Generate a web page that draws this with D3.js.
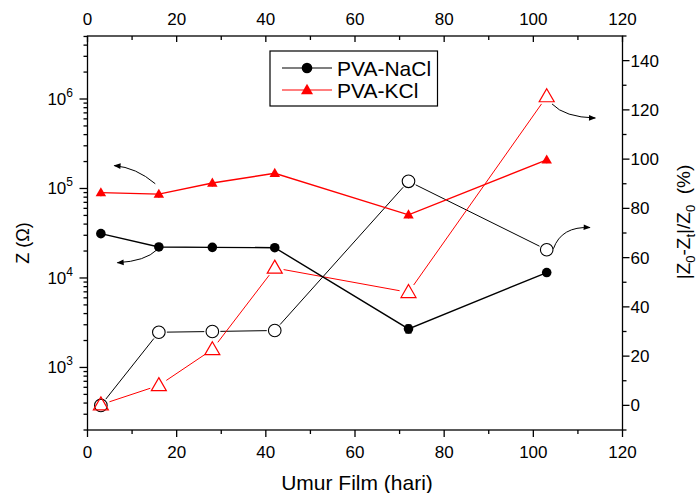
<!DOCTYPE html>
<html><head><meta charset="utf-8">
<script src="https://cdn.jsdelivr.net/npm/d3@7"></script>
<style>body{margin:0;background:#fff}svg{display:block}text{font-family:"Liberation Sans",Arial,sans-serif}</style>
</head><body>
<script>
const days = [3, 16, 28, 42, 72, 103];
const zNaCl = [31300, 22200, 22000, 21800, 2700, 11500];
const zNaClErr = [0, 0, 0, 0, 280, 0];
const zKCl = [90000, 86500, 115000, 148000, 50800, 209000];
const zKClErr = [8000, 7500, 10000, 13000, 4500, 18000];
const pNaCl = [0, 29.7, 30, 30.4, 91, 63.2];
const pKCl = [0.3, 8.1, 22.7, 55.8, 45.9, 125.4];
const xTicks = [0, 20, 40, 60, 80, 100, 120];
const rTicks = [0, 20, 40, 60, 80, 100, 120, 140];
const logMajor = [3, 4, 5, 6];
const legendNames = ["PVA-NaCl", "PVA-KCl"];

const W = 697, H = 493;
const svg = d3.select("body").append("svg").attr("width", W).attr("height", H);
const L = 87.5, R = 622.5, T = 36, B = 430;
const x = d3.scaleLinear([0, 120], [L, R]);
const yL = d3.scaleLog([200, 5.06e6], [B, T]);
const yR = d3.scaleLinear([-10, 150], [B, T]);

const ax = svg.append("g").attr("stroke", "#000").attr("stroke-width", 1.3).attr("fill", "none");
ax.append("rect").attr("x", L).attr("y", T).attr("width", R - L).attr("height", B - T);

// bottom & top ticks
const xMinor = d3.range(10, 120, 20);
xTicks.forEach(v => {
  ax.append("line").attr("x1", x(v)).attr("x2", x(v)).attr("y1", B).attr("y2", B + 7);
  ax.append("line").attr("x1", x(v)).attr("x2", x(v)).attr("y1", T).attr("y2", T + 6);
});
xMinor.forEach(v => {
  ax.append("line").attr("x1", x(v)).attr("x2", x(v)).attr("y1", B).attr("y2", B + 4);
  ax.append("line").attr("x1", x(v)).attr("x2", x(v)).attr("y1", T).attr("y2", T + 4);
});
const tg = svg.append("g").attr("font-size", 17).attr("fill", "#000").attr("text-anchor", "middle");
xTicks.forEach(v => {
  tg.append("text").attr("x", x(v)).attr("y", B + 28).text(v);
  tg.append("text").attr("x", x(v)).attr("y", T - 11).text(v);
});

// left log ticks
const [lo, hi] = yL.domain();
for (let e = 2; e <= 6; e++) {
  for (let k = 1; k <= 9; k++) {
    const v = k * Math.pow(10, e);
    if (v < lo || v > hi) continue;
    const len = k === 1 ? 8 : 4;
    ax.append("line").attr("x1", L).attr("x2", L - len).attr("y1", yL(v)).attr("y2", yL(v));
  }
}
logMajor.forEach(e => {
  const t = svg.append("text").attr("font-size", 17).attr("text-anchor", "end")
    .attr("x", 73).attr("y", yL(Math.pow(10, e)) + 6);
  t.append("tspan").text("10");
  t.append("tspan").attr("font-size", 12).attr("dy", -8).text(e);
});

// right ticks
d3.range(-10, 151, 10).forEach(v => {
  const major = v % 20 === 0;
  ax.append("line").attr("x1", R).attr("x2", R + (major ? 7 : 4)).attr("y1", yR(v)).attr("y2", yR(v));
});
rTicks.forEach(v => {
  svg.append("text").attr("font-size", 17).attr("x", R + 8).attr("y", yR(v) + 6).text(v);
});

// axis titles
svg.append("text").attr("font-size", 21).attr("text-anchor", "middle")
  .attr("x", 357).attr("y", 490).text("Umur Film (hari)");
svg.append("text").attr("font-size", 18).attr("text-anchor", "middle")
  .attr("transform", "translate(29,243) rotate(-90)").text("Z (Ω)");
const rt = svg.append("text").attr("font-size", 19).attr("text-anchor", "middle")
  .attr("transform", "translate(690,222) rotate(-90)");
rt.append("tspan").text("|Z");
rt.append("tspan").attr("font-size", 13).attr("dy", 5).text("0");
rt.append("tspan").attr("dy", -5).text("-Z");
rt.append("tspan").attr("font-size", 13).attr("dy", 5).text("t");
rt.append("tspan").attr("dy", -5).text("|/Z");
rt.append("tspan").attr("font-size", 13).attr("dy", 5).text("0");
rt.append("tspan").attr("dy", -5).text("\u00a0\u00a0(%)");

// helpers
function trimmedSegments(g, pts, gap, color, w) {
  for (let i = 0; i < pts.length - 1; i++) {
    const [x1, y1] = pts[i], [x2, y2] = pts[i + 1];
    const dx = x2 - x1, dy = y2 - y1, d = Math.hypot(dx, dy);
    const ux = dx / d, uy = dy / d;
    g.append("line").attr("x1", x1 + ux * gap).attr("y1", y1 + uy * gap)
      .attr("x2", x2 - ux * gap).attr("y2", y2 - uy * gap)
      .attr("stroke", color).attr("stroke-width", w);
  }
}
function tri(cx, cy, s) {
  const h = s * 0.866;
  return `M${cx},${cy - h * 0.6}L${cx + s / 2},${cy + h * 0.4}L${cx - s / 2},${cy + h * 0.4}Z`;
}

const plot = svg.append("g");
// open series (right axis)
const ptsNa = days.map((d, i) => [x(d), yR(pNaCl[i])]);
const ptsK = days.map((d, i) => [x(d), yR(pKCl[i])]);
trimmedSegments(plot, ptsNa, 8, "#000", 1);
trimmedSegments(plot, ptsK, 9, "#f00", 1);
ptsNa.forEach(p => plot.append("circle").attr("cx", p[0]).attr("cy", p[1]).attr("r", 6.3)
  .attr("fill", "none").attr("stroke", "#000").attr("stroke-width", 1.1));
ptsK.forEach(p => plot.append("path").attr("d", tri(p[0], p[1], 15))
  .attr("fill", "none").attr("stroke", "#f00").attr("stroke-width", 1.2));

// filled series (left axis)
const line = d3.line();
const fNa = days.map((d, i) => [x(d), yL(zNaCl[i])]);
const fK = days.map((d, i) => [x(d), yL(zKCl[i])]);
plot.append("path").attr("d", line(fNa)).attr("fill", "none").attr("stroke", "#000").attr("stroke-width", 1.4);
plot.append("path").attr("d", line(fK)).attr("fill", "none").attr("stroke", "#f00").attr("stroke-width", 1.4);
days.forEach((d, i) => {
  if (zNaClErr[i] > 0) {
    plot.append("line").attr("x1", x(d)).attr("x2", x(d))
      .attr("y1", yL(zNaCl[i] - zNaClErr[i])).attr("y2", yL(zNaCl[i] + zNaClErr[i])).attr("stroke", "#000").attr("stroke-width", 1.2);
    [-1, 1].forEach(s => plot.append("line").attr("x1", x(d) - 3).attr("x2", x(d) + 3)
      .attr("y1", yL(zNaCl[i] + s * zNaClErr[i])).attr("y2", yL(zNaCl[i] + s * zNaClErr[i])).attr("stroke", "#000"));
  }
  plot.append("line").attr("x1", x(d)).attr("x2", x(d))
    .attr("y1", yL(zKCl[i] - zKClErr[i])).attr("y2", yL(zKCl[i] + zKClErr[i])).attr("stroke", "#f00").attr("stroke-width", 1.2);
});
fNa.forEach(p => plot.append("circle").attr("cx", p[0]).attr("cy", p[1]).attr("r", 4.8).attr("fill", "#000"));
fK.forEach(p => plot.append("path").attr("d", tri(p[0], p[1], 10.5)).attr("fill", "#f00"));

// curved arrows (annotation, in data coordinates)
const defs = svg.append("defs");
defs.append("marker").attr("id", "ah").attr("viewBox", "0 0 10 10").attr("refX", 9).attr("refY", 5)
  .attr("markerWidth", 8).attr("markerHeight", 7).attr("markerUnits", "userSpaceOnUse").attr("orient", "auto")
  .append("path").attr("d", "M0,1L10,5L0,9Z").attr("fill", "#000");
const arrowsL = [
  [[15.2, 1.13e5], [10.9, 1.72e5], [6.0, 1.8e5]],
  [[15.6, 2.07e4], [13.0, 1.54e4], [6.7, 1.48e4]]
];
const arrowsR = [
  [[104.2, 122.4], [107.0, 117.0], [113.9, 116.7]],
  [[104.5, 63.6], [106.3, 72.8], [112.7, 72.2]]
];
arrowsL.forEach(a => {
  const p = a.map(q => [x(q[0]), yL(q[1])]);
  svg.append("path").attr("d", `M${p[0]}Q${p[1]} ${p[2]}`).attr("fill", "none")
    .attr("stroke", "#000").attr("stroke-width", 1).attr("marker-end", "url(#ah)");
});
arrowsR.forEach(a => {
  const p = a.map(q => [x(q[0]), yR(q[1])]);
  svg.append("path").attr("d", `M${p[0]}Q${p[1]} ${p[2]}`).attr("fill", "none")
    .attr("stroke", "#000").attr("stroke-width", 1).attr("marker-end", "url(#ah)");
});

// legend
const lg = svg.append("g");
lg.append("rect").attr("x", 270).attr("y", 51).attr("width", 167.5).attr("height", 55)
  .attr("fill", "#fff").attr("stroke", "#000").attr("stroke-width", 1.2);
[0, 1].forEach(i => {
  const yy = 68 + i * 22;
  const c = i === 0 ? "#000" : "#f00";
  lg.append("line").attr("x1", 282).attr("x2", 332).attr("y1", yy).attr("y2", yy).attr("stroke", c).attr("stroke-width", 1.2);
  if (i === 0) lg.append("circle").attr("cx", 307).attr("cy", yy).attr("r", 5.3).attr("fill", c);
  else lg.append("path").attr("d", tri(307, yy, 12)).attr("fill", c);
  lg.append("text").attr("x", 337).attr("y", yy + 7.5).attr("font-size", 21).text(legendNames[i]);
});
</script>
</body></html>
